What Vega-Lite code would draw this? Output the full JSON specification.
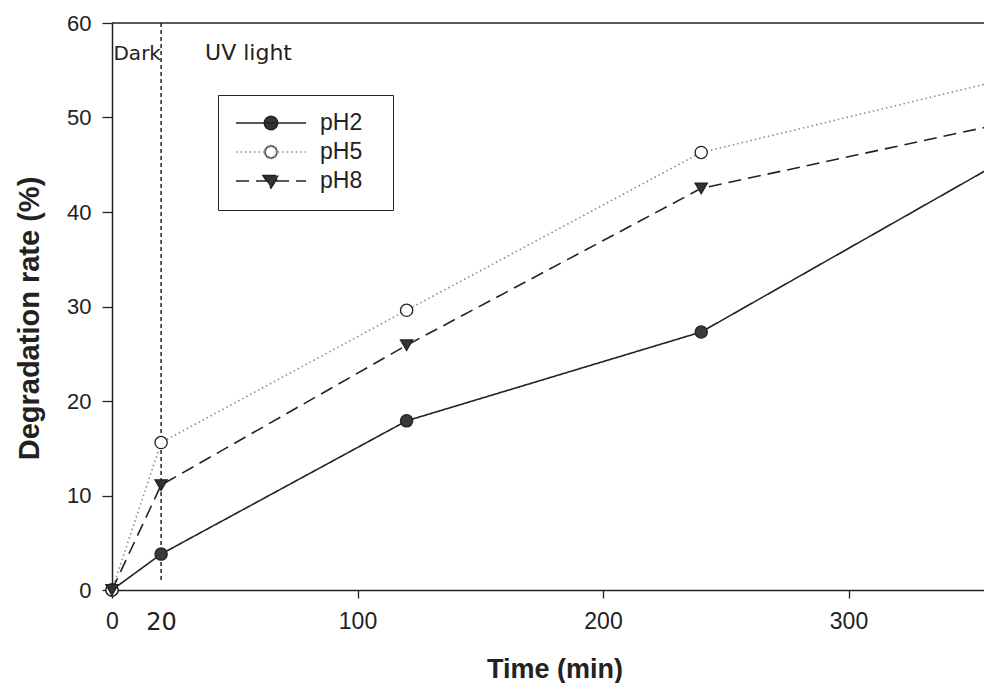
{
  "$schema": "https://vega.github.io/schema/vega-lite/v6.json",
  "width": 874,
  "height": 567,
  "autosize": {"type": "none"},
  "padding": {"left": 112, "top": 23, "right": -2, "bottom": 93},
  "background": "white",
  "config": {
    "view": {"stroke": null},
    "font": "Liberation Sans",
    "axis": {
      "grid": false,
      "domainColor": "#222",
      "domainWidth": 1.5,
      "tickColor": "#222",
      "tickWidth": 1.3,
      "labelColor": "#222",
      "labelFont": "Liberation Sans",
      "titleColor": "#222",
      "titleFont": "Liberation Sans",
      "titleFontWeight": "bold",
      "labelFlush": false,
      "labelOverlap": false
    }
  },
  "datasets": {
    "series": [
      {"time": 0, "rate": 0, "pH": "pH2"},
      {"time": 20, "rate": 3.8, "pH": "pH2"},
      {"time": 120, "rate": 17.9, "pH": "pH2"},
      {"time": 240, "rate": 27.3, "pH": "pH2"},
      {"time": 360, "rate": 45.0, "pH": "pH2"},
      {"time": 0, "rate": 0, "pH": "pH5"},
      {"time": 20, "rate": 15.6, "pH": "pH5"},
      {"time": 120, "rate": 29.6, "pH": "pH5"},
      {"time": 240, "rate": 46.3, "pH": "pH5"},
      {"time": 360, "rate": 53.8, "pH": "pH5"},
      {"time": 0, "rate": 0, "pH": "pH8"},
      {"time": 20, "rate": 11.1, "pH": "pH8"},
      {"time": 120, "rate": 25.9, "pH": "pH8"},
      {"time": 240, "rate": 42.5, "pH": "pH8"},
      {"time": 360, "rate": 49.2, "pH": "pH8"}
    ],
    "notes": [
      {"label": "Dark", "time": 0.6, "rate": 56.1},
      {"label": "UV light", "time": 37.9, "rate": 56.1}
    ],
    "frame": [{"part": "frame"}]
  },
  "layer": [
    {
      "data": {"name": "frame"},
      "mark": {"type": "rule", "color": "#222", "strokeWidth": 1.5},
      "encoding": {"y": {"datum": 60, "type": "quantitative", "scale": {"domain": [0, 60], "nice": false}}}
    },
    {
      "data": {"name": "frame"},
      "mark": {"type": "rule", "color": "#222", "strokeWidth": 1.5, "strokeDash": [4, 3]},
      "encoding": {
        "x": {"datum": 20, "type": "quantitative"},
        "y": {"datum": 60, "type": "quantitative"},
        "y2": {"datum": 0.8}
      }
    },
    {
      "data": {"name": "series"},
      "mark": {"type": "line", "strokeWidth": 1.6, "clip": true},
      "encoding": {
        "x": {
          "field": "time", "type": "quantitative",
          "scale": {"domain": [0, 356.0], "nice": false, "zero": false},
          "axis": {
            "title": "Time (min)",
            "values": [0, 20, 100, 200, 300],
            "tickSize": 8,
            "labelPadding": 12,
            "labelFontSize": {"condition": {"test": "datum.value === 20", "value": 24}, "value": 23},
            "labelFont": {"condition": {"test": "datum.value === 20", "value": "DejaVu Sans"}, "value": "Liberation Sans"},
            "tickOpacity": {"condition": {"test": "datum.value === 20", "value": 0}, "value": 1},
            "titleFontSize": 27,
            "titleX": 442.5,
            "titleY": 66
          }
        },
        "y": {
          "field": "rate", "type": "quantitative",
          "scale": {"domain": [0, 60], "nice": false},
          "axis": {
            "title": "Degradation rate (%)",
            "values": [0, 10, 20, 30, 40, 50, 60],
            "tickSize": 10,
            "labelPadding": 11,
            "labelFontSize": 22,
            "titleFontSize": 29,
            "titleBaseline": "alphabetic",
            "titleX": -74,
            "titleY": 295
          }
        },
        "color": {
          "field": "pH", "type": "nominal",
          "scale": {"domain": ["pH2", "pH5", "pH8"], "range": ["#222222", "#8a8a8a", "#222222"]},
          "legend": null
        },
        "strokeDash": {
          "field": "pH", "type": "nominal",
          "scale": {"range": [[1, 0], [1.5, 3], [13, 7]]},
          "legend": {
            "title": ".",
            "titleOrient": "right",
            "titleOpacity": 0,
            "titleFontSize": 10,
            "titlePadding": 11,
            "orient": "none",
            "legendX": 106,
            "legendY": 72,
            "padding": 17,
            "strokeColor": "#222",
            "fillColor": "white",
            "symbolSize": 4900,
            "symbolStrokeWidth": 1.5,
            "symbolOffset": 0,
            "labelOffset": 13,
            "clipHeight": 22,
            "rowPadding": 6,
            "labelFontSize": 23,
            "labelFont": "Liberation Sans",
            "labelColor": "#222",
            "labelLimit": 300,
            "encode": {
              "symbols": {
                "update": {
                  "shape": {"signal": "datum.value === 'pH2' ? 'M-1,0H1M0.19,0A0.19,0.19,0,1,1,-0.19,0A0.19,0.19,0,1,1,0.19,0Z' : datum.value === 'pH5' ? 'M-1,0H-0.19M0.19,0H1M0.19,0A0.19,0.19,0,1,1,-0.19,0A0.19,0.19,0,1,1,0.19,0ZM0.15,0A0.15,0.15,0,1,0,-0.15,0A0.15,0.15,0,1,0,0.15,0Z' : 'M-1,0H1M-0.23,-0.16L0.23,-0.16L0,0.2Z'"},
                  "fill": {"value": "#333333"},
                  "fillOpacity": {"value": 1},
                  "stroke": {"signal": "datum.value === 'pH5' ? '#8a8a8a' : '#222222'"},
                  "opacity": {"value": 1}
                }
              }
            }
          }
        }
      }
    },
    {
      "data": {"name": "series"},
      "mark": {"type": "point", "filled": true, "size": 150, "stroke": "#222", "strokeWidth": 1.3, "opacity": 1},
      "encoding": {
        "x": {"field": "time", "type": "quantitative"},
        "y": {"field": "rate", "type": "quantitative"},
        "shape": {
          "field": "pH", "type": "nominal",
          "scale": {"domain": ["pH2", "pH5", "pH8"], "range": ["circle", "circle", "triangle-down"]},
          "legend": null
        },
        "fill": {
          "field": "pH", "type": "nominal",
          "scale": {"domain": ["pH2", "pH5", "pH8"], "range": ["#3a3a3a", "#ffffff", "#333333"]},
          "legend": null
        }
      }
    },
    {
      "data": {"name": "notes"},
      "transform": [{"filter": "datum.label === 'Dark'"}],
      "mark": {"type": "text", "align": "left", "baseline": "alphabetic", "font": "DejaVu Sans", "fontSize": 20, "color": "#222"},
      "encoding": {
        "x": {"field": "time", "type": "quantitative"},
        "y": {"field": "rate", "type": "quantitative"},
        "text": {"field": "label"}
      }
    },
    {
      "data": {"name": "notes"},
      "transform": [{"filter": "datum.label !== 'Dark'"}],
      "mark": {"type": "text", "align": "left", "baseline": "alphabetic", "font": "DejaVu Sans", "fontSize": 22, "color": "#222"},
      "encoding": {
        "x": {"field": "time", "type": "quantitative"},
        "y": {"field": "rate", "type": "quantitative"},
        "text": {"field": "label"}
      }
    }
  ]
}
